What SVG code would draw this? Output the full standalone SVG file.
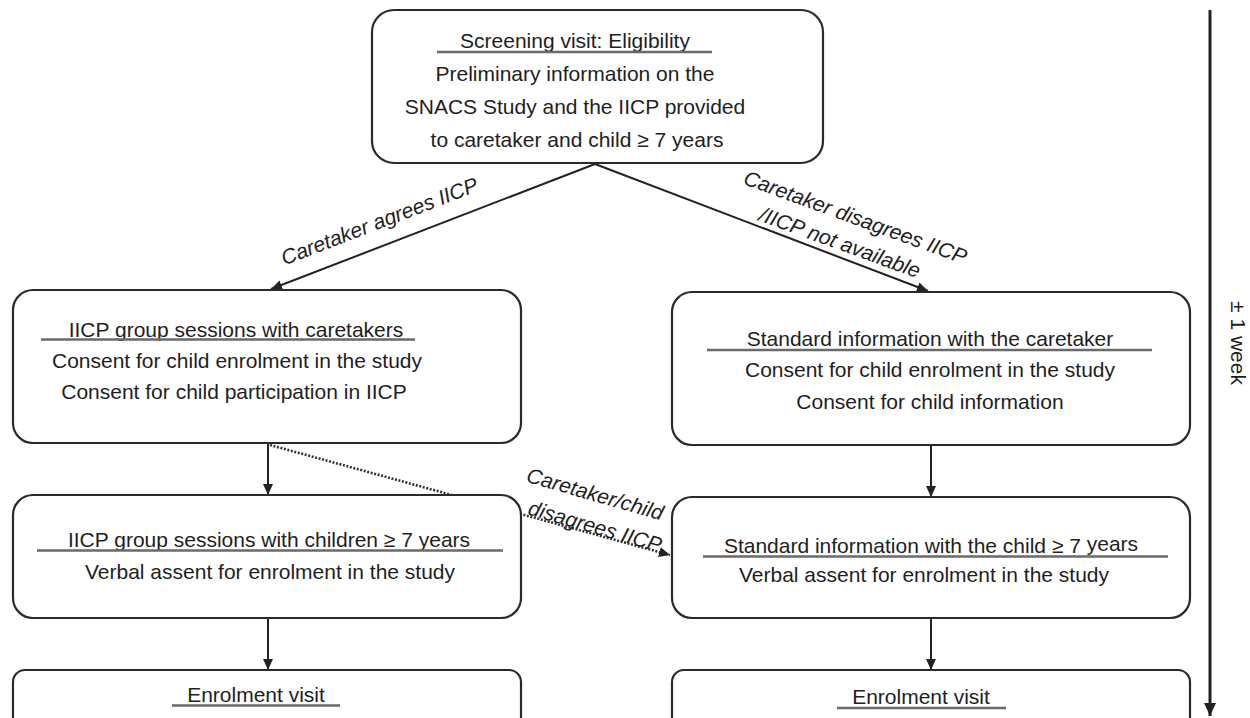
<svg xmlns="http://www.w3.org/2000/svg" width="1250" height="718" viewBox="0 0 1250 718">
<defs>
<style>
.box{fill:#fff;stroke:#2a2a2a;stroke-width:2.2}
.t{font-family:"Liberation Sans",Arial,sans-serif;font-size:21px;fill:#1e1e1e;text-anchor:middle}
.lbl{font-family:"Liberation Sans",Arial,sans-serif;font-size:21px;font-style:italic;fill:#1e1e1e;text-anchor:middle}
.ul{stroke:#6a6a6a;stroke-width:2.4}
.con{stroke:#222;stroke-width:2;fill:none}
.dot{stroke:#333;stroke-width:2.6;stroke-dasharray:2 1.6;fill:none}
</style>
<marker id="ah" markerUnits="userSpaceOnUse" markerWidth="12" markerHeight="10" refX="11" refY="5" orient="auto">
<path d="M0,0 L11,5 L0,10 z" fill="#222"/>
</marker>
<marker id="ahBig" markerUnits="userSpaceOnUse" markerWidth="14" markerHeight="12" refX="13" refY="6" orient="auto">
<path d="M0,0 L13,6 L0,12 z" fill="#222"/>
</marker>
</defs>
<rect width="1250" height="718" fill="#fff"/>

<g id="connectors">
<path class="con" d="M595,164 L271,289" marker-end="url(#ah)"/>
<path class="con" d="M595,164 L928,291" marker-end="url(#ah)"/>
<path class="con" d="M268,443 L268,495" marker-end="url(#ah)"/>
<path class="con" d="M931,445 L931,497" marker-end="url(#ah)"/>
<path class="con" d="M268,618 L268,670" marker-end="url(#ah)"/>
<path class="con" d="M931,618 L931,670" marker-end="url(#ah)"/>
<path class="dot" d="M270,445 L670,555" marker-end="url(#ah)"/>
<path class="con" style="stroke-width:3" d="M1210,10 L1210,716" marker-end="url(#ahBig)"/>
<text class="lbl" transform="translate(382,228) rotate(-21)">Caretaker agrees IICP</text>
<g transform="translate(853,224) rotate(20)">
<text class="lbl" x="0" y="0">Caretaker disagrees IICP</text>
<text class="lbl" x="-6" y="29">/IICP not available</text>
</g>
<g transform="translate(593,501) rotate(16)">
<text class="lbl" x="0" y="0">Caretaker/child</text>
<text class="lbl" x="9" y="31">disagrees IICP</text>
</g>
<text class="t" transform="translate(1231,343) rotate(90)">± 1 week</text>
</g>

<g id="screening">
<rect class="box" x="372" y="10" width="451" height="153" rx="22"/>
<text class="t" x="575" y="48">Screening visit: Eligibility</text>
<line class="ul" x1="437" y1="52" x2="712" y2="52"/>
<text class="t" x="575" y="81">Preliminary information on the</text>
<text class="t" x="575" y="114">SNACS Study and the IICP provided</text>
<text class="t" x="577" y="147">to caretaker and child ≥ 7 years</text>
</g>

<g id="iicp-caretakers">
<rect class="box" x="13" y="290" width="508" height="153" rx="20"/>
<text class="t" x="236" y="337">IICP group sessions with caretakers</text>
<line class="ul" x1="41" y1="339.5" x2="415" y2="339.5"/>
<text class="t" x="237" y="368">Consent for child enrolment in the study</text>
<text class="t" x="234" y="399">Consent for child participation in IICP</text>
</g>

<g id="standard-caretaker">
<rect class="box" x="672" y="292" width="518" height="153" rx="20"/>
<text class="t" x="930" y="346">Standard information with the caretaker</text>
<line class="ul" x1="707" y1="350" x2="1152" y2="350"/>
<text class="t" x="930" y="377">Consent for child enrolment in the study</text>
<text class="t" x="930" y="409">Consent for child information</text>
</g>

<g id="iicp-children">
<rect class="box" x="13" y="495" width="508" height="123" rx="20"/>
<text class="t" x="269" y="547">IICP group sessions with children ≥ 7 years</text>
<line class="ul" x1="37" y1="550.5" x2="503" y2="550.5"/>
<text class="t" x="270" y="579">Verbal assent for enrolment in the study</text>
</g>

<g id="standard-child">
<rect class="box" x="672" y="497" width="518" height="121" rx="20"/>
<text class="t" x="931" y="553">Standard information with the child ≥ 7 <tspan dy="-2">years</tspan></text>
<line class="ul" x1="703" y1="556.5" x2="1168" y2="556.5"/>
<text class="t" x="924" y="582">Verbal assent for enrolment in the study</text>
</g>

<g id="enrolment-left">
<rect class="box" x="13" y="670" width="508" height="70" rx="12"/>
<text class="t" x="256" y="702">Enrolment visit</text>
<line class="ul" x1="172" y1="705.5" x2="340" y2="705.5"/>
</g>

<g id="enrolment-right">
<rect class="box" x="672" y="670" width="518" height="70" rx="12"/>
<text class="t" x="921" y="704">Enrolment visit</text>
<line class="ul" x1="837" y1="708" x2="1006" y2="708"/>
</g>
</svg>
